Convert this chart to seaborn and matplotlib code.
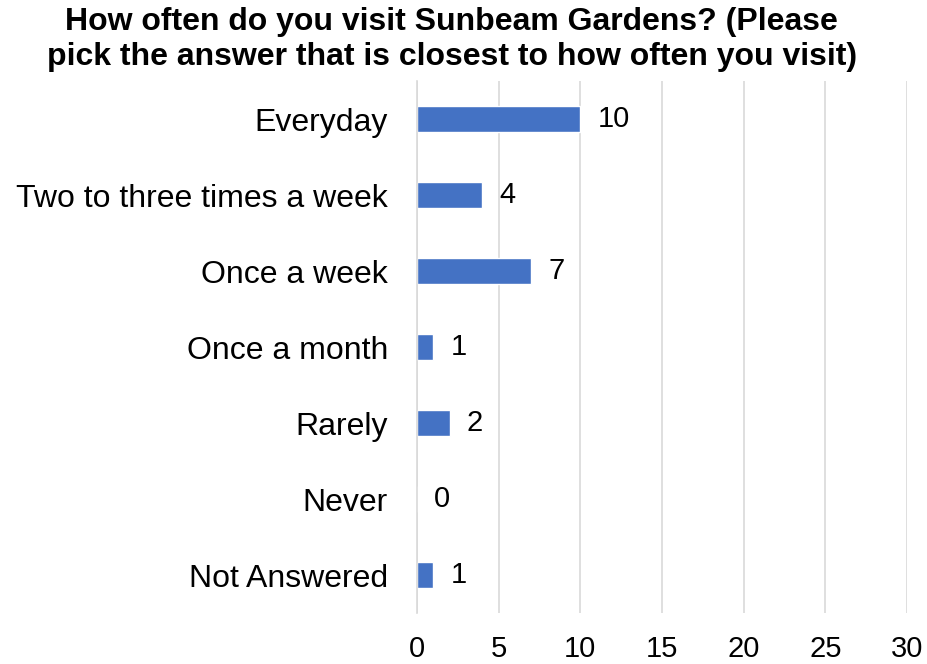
import matplotlib
matplotlib.use('Agg')
import matplotlib.pyplot as plt
import pandas as pd
import seaborn as sns

categories = ['Everyday', 'Two to three times a week', 'Once a week',
              'Once a month', 'Rarely', 'Never', 'Not Answered']
counts = [10, 4, 7, 1, 2, 0, 1]
x_ticks = [0, 5, 10, 15, 20, 25, 30]

df = pd.DataFrame({'answer': categories, 'count': counts})

sns.set_style('white')
plt.rcParams['font.family'] = ['Liberation Sans', 'DejaVu Sans']
plt.rcParams['text.color'] = 'black'
plt.rcParams['xtick.color'] = 'black'
plt.rcParams['ytick.color'] = 'black'

fig = plt.figure(figsize=(9.28, 6.64), dpi=100)
ax = fig.add_axes([0.4494, 0.0768, 0.528, 0.8012])

sns.barplot(data=df, x='count', y='answer', orient='h', color='#4472C4',
            saturation=1, width=0.34, ax=ax)

ax.set_xlim(0, 30)
ax.set_xticks(x_ticks)
ax.tick_params(axis='x', labelsize=21, length=0, pad=16)
ax.tick_params(axis='y', labelsize=23, length=0, pad=21)
ax.set_xlabel('')
ax.set_ylabel('')
ax.grid(axis='x', color='#D9D9D9', linewidth=1.2)
ax.set_axisbelow(True)
for s in ['top', 'right', 'bottom']:
    ax.spines[s].set_visible(False)
ax.spines['left'].set_color('#D9D9D9')
ax.spines['left'].set_linewidth(1.2)

for i, v in enumerate(counts):
    ax.text(v + 1.05, i, str(v), va='center', ha='left', fontsize=21)

fig.text(0.487, 0.99, 'How often do you visit Sunbeam Gardens? (Please\n'
         'pick the answer that is closest to how often you visit)',
         ha='center', va='top', fontsize=23, fontweight='bold', linespacing=1.25)

fig.savefig('out.png', dpi=100)
